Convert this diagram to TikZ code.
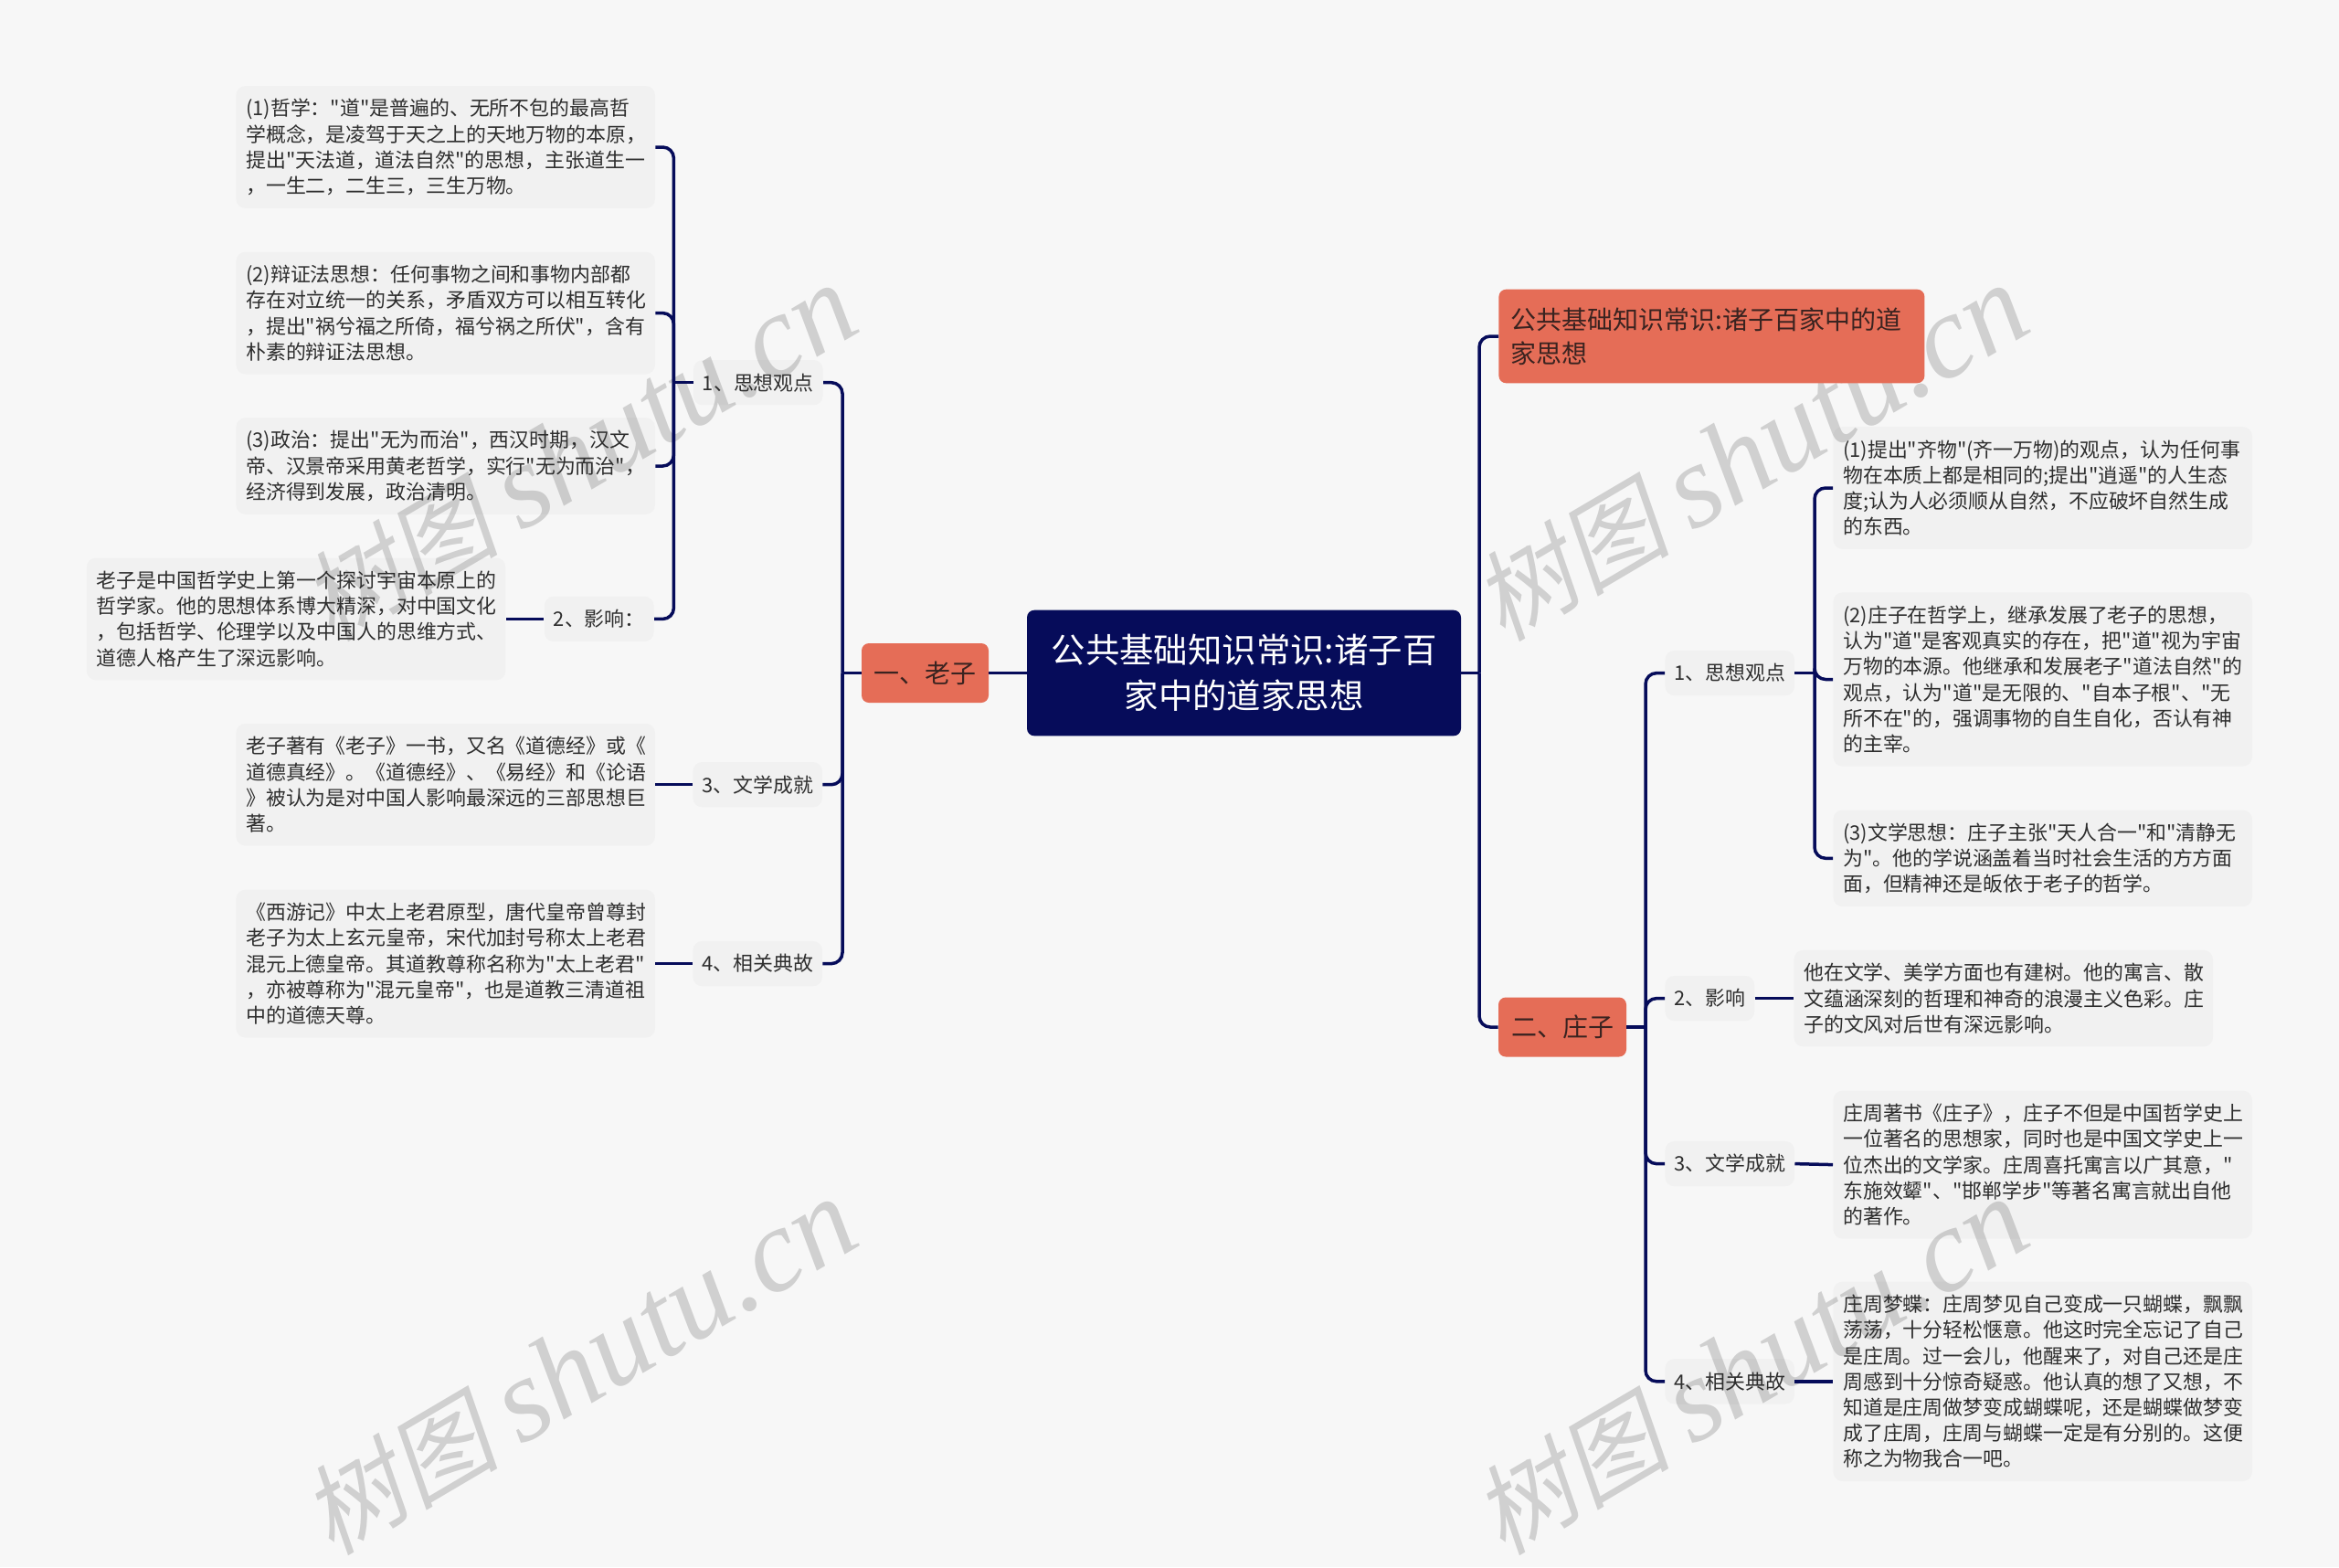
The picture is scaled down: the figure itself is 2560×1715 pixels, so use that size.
\documentclass[tikz,border=0pt]{standalone}
\usepackage{fontspec}
\setmainfont{Noto Sans CJK SC}[Ligatures=TeXOff]
\newfontfamily\wmcjk[FakeSlant=0.2]{Noto Sans CJK SC}
\newfontfamily\wmlatin{Liberation Serif}
\definecolor{pagebg}{HTML}{F7F7F7}
\definecolor{navy}{HTML}{060C5A}
\definecolor{coral}{HTML}{E56D57}
\definecolor{bodyink}{HTML}{2E2E2E}
\definecolor{coralink}{HTML}{3A2320}
\definecolor{wmgray}{HTML}{D0D0D0}
\tikzset{
  softbox/.style={fill=black,fill opacity=.022,text opacity=1,text=bodyink,rounded corners=5pt,
    font=\fontsize{10.95}{14.1}\selectfont},
  leafbox/.style={softbox,anchor=west,align=left,inner xsep=5.4pt,inner ysep=0pt,text width=218.5pt,
    minimum height=#1*14.1pt+10.5pt,execute at end node={\par\vskip-1.5pt}},
  subbox/.style={softbox,inner xsep=5pt,inner ysep=0pt,minimum height=24.7pt},
  headbox/.style={fill=coral,text=coralink,rounded corners=4pt,inner ysep=0pt,
    font=\fontsize{14}{18.5}\selectfont},
  rootbox/.style={fill=navy,text=white,rounded corners=4pt,align=center,inner sep=0pt,
    minimum width=237.5pt,minimum height=68.8pt,font=\fontsize{18.7}{25}\selectfont},
  branch/.style={draw=navy,line width=1.75pt,rounded corners=6pt},
  watermark/.style={rotate=30.5,anchor=base west,inner sep=0pt,text=wmgray},
}
\begin{document}
\begin{tikzpicture}[x=0.5pt,y=-0.5pt]
\path[fill=pagebg,use as bounding box] (0,0) rectangle (2560,1715);

\foreach \wn/\wx/\wy in {a/363/704,b/1645/704,c/363/1704,d/1645/1704}
  \node[watermark] (wm\wn) at (\wx,\wy) {\fontsize{54}{60}\wmcjk 树图\hspace{12pt}\fontsize{65}{70}\wmlatin\itshape shutu.cn};

\node[rootbox] (root) at (1361.5,736.5) {公共基础知识常识:诸子百\\家中的道家思想};
\node[headbox,minimum width=69.5pt,minimum height=32.5pt] (lao) at (1012.5,736.5) {一、老子};
\node[headbox,minimum width=70pt,minimum height=32.5pt] (zhuang) at (1710,1124) {二、庄子};
\node[headbox,anchor=west,align=left,inner xsep=6.5pt,text width=220pt,minimum height=51.3pt] (title) at (1640,368) {公共基础知识常识:诸子百家中的道\\家思想};

\node[subbox,anchor=east] (laoA) at (901,418.7) {1、思想观点};
\node[subbox,anchor=east] (laoB) at (716,677.4) {2、影响：};
\node[subbox,anchor=east] (laoC) at (900.4,858.7) {3、文学成就};
\node[subbox,anchor=east] (laoD) at (900.4,1054.6) {4、相关典故};

\node[leafbox=4] (laoA1) at (258,161) {(1)哲学："道"是普遍的、无所不包的最高哲\\学概念，是凌驾于天之上的天地万物的本原，\\提出"天法道，道法自然"的思想，主张道生一\\，一生二，二生三，三生万物。};
\node[leafbox=4] (laoA2) at (258,342.6) {(2)辩证法思想：任何事物之间和事物内部都\\存在对立统一的关系，矛盾双方可以相互转化\\，提出"祸兮福之所倚，福兮祸之所伏"，含有\\朴素的辩证法思想。};
\node[leafbox=3] (laoA3) at (258,510) {(3)政治：提出"无为而治"，西汉时期，汉文\\帝、汉景帝采用黄老哲学，实行"无为而治"，\\经济得到发展，政治清明。};
\node[leafbox=4] (laoB1) at (94.4,677.4) {老子是中国哲学史上第一个探讨宇宙本原上的\\哲学家。他的思想体系博大精深，对中国文化\\，包括哲学、伦理学以及中国人的思维方式、\\道德人格产生了深远影响。};
\node[leafbox=4] (laoC1) at (258,858.7) {老子著有《老子》一书，又名《道德经》或《\\道德真经》。《道德经》、《易经》和《论语\\》被认为是对中国人影响最深远的三部思想巨\\著。};
\node[leafbox=5] (laoD1) at (258,1054.6) {《西游记》中太上老君原型，唐代皇帝曾尊封\\老子为太上玄元皇帝，宋代加封号称太上老君\\混元上德皇帝。其道教尊称名称为"太上老君"\\，亦被尊称为"混元皇帝"，也是道教三清道祖\\中的道德天尊。};

\node[subbox,anchor=west] (zhuangA) at (1822,736.6) {1、思想观点};
\node[subbox,anchor=west] (zhuangB) at (1822,1092.6) {2、影响};
\node[subbox,anchor=west] (zhuangC) at (1822,1273.6) {3、文学成就};
\node[subbox,anchor=west] (zhuangD) at (1822,1511.8) {4、相关典故};

\node[leafbox=4] (zhuangA1) at (2006,534) {(1)提出"齐物"(齐一万物)的观点，认为任何事\\物在本质上都是相同的;提出"逍遥"的人生态\\度;认为人必须顺从自然，不应破坏自然生成\\的东西。};
\node[leafbox=6] (zhuangA2) at (2006,743.5) {(2)庄子在哲学上，继承发展了老子的思想，\\认为"道"是客观真实的存在，把"道"视为宇宙\\万物的本源。他继承和发展老子"道法自然"的\\观点，认为"道"是无限的、"自本子根"、"无\\所不在"的，强调事物的自生自化，否认有神\\的主宰。};
\node[leafbox=3] (zhuangA3) at (2006,939.3) {(3)文学思想：庄子主张"天人合一"和"清静无\\为"。他的学说涵盖着当时社会生活的方方面\\面，但精神还是皈依于老子的哲学。};
\node[leafbox=3] (zhuangB1) at (1963,1092.6) {他在文学、美学方面也有建树。他的寓言、散\\文蕴涵深刻的哲理和神奇的浪漫主义色彩。庄\\子的文风对后世有深远影响。};
\node[leafbox=5] (zhuangC1) at (2006,1274.6) {庄周著书《庄子》，庄子不但是中国哲学史上\\一位著名的思想家，同时也是中国文学史上一\\位杰出的文学家。庄周喜托寓言以广其意，"\\东施效颦"、"邯郸学步"等著名寓言就出自他\\的著作。};
\node[leafbox=7] (zhuangD1) at (2006,1511.8) {庄周梦蝶：庄周梦见自己变成一只蝴蝶，飘飘\\荡荡，十分轻松惬意。他这时完全忘记了自己\\是庄周。过一会儿，他醒来了，对自己还是庄\\周感到十分惊奇疑惑。他认真的想了又想，不\\知道是庄周做梦变成蝴蝶呢，还是蝴蝶做梦变\\成了庄周，庄周与蝴蝶一定是有分别的。这便\\称之为物我合一吧。};

\coordinate (jLao) at (922,736.5);
\coordinate (jLaoA) at (737.4,418.7);
\coordinate (jMain) at (1619,736.5);
\coordinate (jZhuang) at (1801,1124);
\coordinate (jZhuangA) at (1986,736.6);

\draw[branch] (root.west) -- (lao.east);
\draw[branch] (root.east) -- (jMain);
\draw[branch] (jMain) |- (title.west);
\draw[branch] (jMain) |- (zhuang.west);

\draw[branch] (lao.west) -- (jLao);
\foreach \kid in {laoA,laoC,laoD}
  \draw[branch] (jLao) |- (\kid.east);
\draw[branch] (laoA.west) -- (jLaoA);
\foreach \kid in {laoA1,laoA2,laoA3,laoB}
  \draw[branch] (jLaoA) |- (\kid.east);
\draw[branch] (laoB.west) -- (laoB1.east);
\draw[branch] (laoC.west) -- (laoC1.east);
\draw[branch] (laoD.west) -- (laoD1.east);

\draw[branch] (zhuang.east) -- (jZhuang);
\foreach \kid in {zhuangA,zhuangB,zhuangC,zhuangD}
  \draw[branch] (jZhuang) |- (\kid.west);
\draw[branch] (zhuangA.east) -- (jZhuangA);
\foreach \kid in {zhuangA1,zhuangA2,zhuangA3}
  \draw[branch] (jZhuangA) |- (\kid.west);
\draw[branch] (zhuangB.east) -- (zhuangB1.west);
\draw[branch] (zhuangC.east) -- (zhuangC1.west);
\draw[branch] (zhuangD.east) -- (zhuangD1.west);
\end{tikzpicture}
\end{document}
